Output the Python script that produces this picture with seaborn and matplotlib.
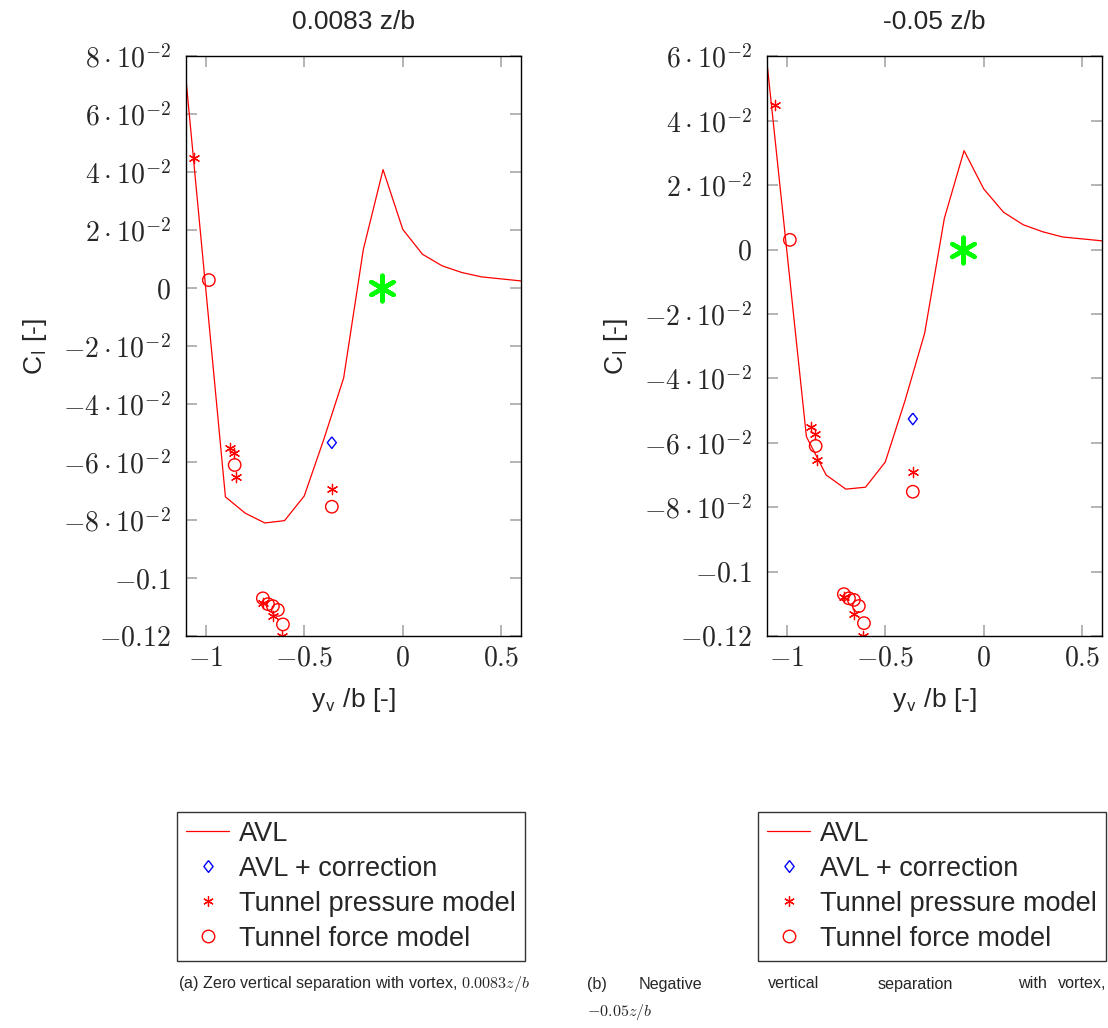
import numpy as np
import pandas as pd
import matplotlib
matplotlib.use("Agg")
import matplotlib.pyplot as plt
from matplotlib.lines import Line2D
import seaborn as sns

# ---- data -------------------------------------------------------------
avl_x = [-1.1, -0.9, -0.8, -0.7, -0.6, -0.5, -0.4, -0.3, -0.2, -0.1,
         0.0, 0.1, 0.2, 0.3, 0.4, 0.5, 0.6]
avl_cl_a = [0.072, -0.072, -0.0776, -0.081, -0.0802, -0.0717, -0.052, -0.031,
            0.0134, 0.0409, 0.0203, 0.0117, 0.0077, 0.0054, 0.0039, 0.0032, 0.0025]
avl_cl_b = [0.058, -0.0581, -0.070, -0.0744, -0.0738, -0.066, -0.047, -0.026,
            0.0097, 0.0307, 0.0188, 0.0116, 0.0077, 0.0055, 0.0039, 0.0033, 0.0027]

corr_x = [-0.36]
corr_cl_a = [-0.0533]
corr_cl_b = [-0.0526]

press_x = [-1.061, -0.876, -0.858, -0.845, -0.71, -0.66, -0.611, -0.36]
press_cl_a = [0.0448, -0.0551, -0.057, -0.0653, -0.1087, -0.113, -0.12, -0.0694]
press_cl_b = [0.0449, -0.0552, -0.0573, -0.0653, -0.108, -0.1133, -0.12, -0.0692]

force_x = [-0.984, -0.853, -0.71, -0.684, -0.659, -0.634, -0.608, -0.36]
force_cl_a = [0.0028, -0.061, -0.107, -0.109, -0.1097, -0.111, -0.116, -0.0754]
force_cl_b = [0.003, -0.061, -0.107, -0.1083, -0.1088, -0.1107, -0.116, -0.0752]

vortex_x = [-0.105]
vortex_cl = [0.0]

titles = ["0.0083 z/b", "-0.05 z/b"]
ylims = [(-0.12, 0.08), (-0.12, 0.06)]
xticks = [-1.0, -0.5, 0.0, 0.5]
xtick_labels = [r"$-1$", r"$-0.5$", r"$0$", r"$0.5$"]
legend_labels = ["AVL", "AVL + correction", "Tunnel pressure model", "Tunnel force model"]

# ---- style ------------------------------------------------------------
sns.set_style("white")
plt.rcParams["font.family"] = ["Liberation Sans", "DejaVu Sans"]
plt.rcParams["mathtext.fontset"] = "cm"

CAPTION_SIZE = 11.6

RED = "#ff0000"
BLUE = "#0000ff"
GREEN = "#00ff00"
ASTER = (6, 2, 0)
DIAMOND = [(0, 1), (0.78, 0), (0, -1), (-0.78, 0), (0, 1)]

W, H = 1108, 1028
fig = plt.figure(figsize=(W / 100, H / 100), dpi=100)


def ytick_label(v):
    if abs(v) < 1e-12:
        return r"$0$"
    if abs(v) >= 0.099:
        return r"$%g$" % v
    m = int(round(v * 100))
    return r"$%d\cdot10^{-2}$" % m


panels = [
    (186, avl_cl_a, corr_cl_a, press_cl_a, force_cl_a),
    (767, avl_cl_b, corr_cl_b, press_cl_b, force_cl_b),
]

for i, (left_px, avl, corr, press, force) in enumerate(panels):
    ax = fig.add_axes([left_px / W, (H - 636) / H, 335 / W, (636 - 56.3) / H])

    sns.lineplot(x=avl_x, y=avl, ax=ax, color=RED, lw=0.9, sort=False)
    sns.scatterplot(x=corr_x, y=corr, ax=ax, marker=DIAMOND, s=70,
                    color=BLUE, edgecolor=BLUE, linewidth=1.0)
    ax.collections[-1].set_facecolor("none")
    sns.scatterplot(x=press_x, y=press, ax=ax, marker=ASTER, s=55,
                    color=RED, edgecolor=RED, linewidth=0.9)
    sns.scatterplot(x=force_x, y=force, ax=ax, marker="o", s=80,
                    color=RED, edgecolor=RED, linewidth=1.0)
    ax.collections[-1].set_facecolor("none")
    sns.scatterplot(x=vortex_x, y=vortex_cl, ax=ax, marker=ASTER, s=340,
                    color=GREEN, edgecolor=GREEN, linewidth=3.2, zorder=5)

    ax.set_xlim(-1.1, 0.6)
    lo, hi = ylims[i]
    ax.set_ylim(lo, hi)
    yt = np.round(np.arange(lo, hi + 1e-9, 0.02), 2)
    ax.set_yticks(yt)
    ax.set_yticklabels([ytick_label(v) for v in yt])
    ax.set_xticks(xticks)
    ax.set_xticklabels(xtick_labels)

    ax.tick_params(axis="both", which="major", direction="in", length=8,
                   width=1.1, color="#a0a0a0", labelsize=20,
                   top=True, right=True, left=True, bottom=True)
    ax.tick_params(axis="y", pad=11)
    ax.tick_params(axis="x", pad=7)
    for sp in ax.spines.values():
        sp.set_color("black")
        sp.set_linewidth(1.0)

    cx = (left_px + 335 / 2) / W
    fig.text(cx, 1 - 22 / H, titles[i], ha="center", va="center", fontsize=19)
    fig.text(cx, 1 - 700 / H, r"y$_\mathsf{v}$ /b [-]", ha="center", va="center",
             fontsize=19)
    fig.text((left_px - 151) / W, 1 - 346 / H, r"C$_\mathsf{l}$ [-]", ha="center",
             va="center", rotation=90, fontsize=19)

    handles = [
        Line2D([], [], color=RED, lw=0.9),
        Line2D([], [], ls="none", marker=DIAMOND, ms=8.5, mfc="none", mec=BLUE, mew=1.0),
        Line2D([], [], ls="none", marker=ASTER, ms=7.5, mec=RED, mew=0.9),
        Line2D([], [], ls="none", marker="o", ms=9, mfc="none", mec=RED, mew=1.0),
    ]
    leg = fig.legend(handles, legend_labels, loc="upper left",
                     bbox_to_anchor=((left_px - 9) / W, 1 - 812 / H),
                     bbox_transform=fig.transFigure, fontsize=19.5,
                     frameon=True, fancybox=False, edgecolor="black",
                     borderpad=0.33, labelspacing=0.33, handlelength=1.6,
                     handletextpad=0.35, borderaxespad=0)
    leg.get_frame().set_linewidth(1.0)

# captions
fig.text(178 / W, 1 - 984 / H, r"(a) Zero vertical separation with vortex, $0.0083z/b$",
         ha="left", va="center", fontsize=CAPTION_SIZE)
words = [("(b)", 587, "left"), ("Negative", 639, "left"), ("vertical", 768, "left"),
         ("separation", 878, "left"), ("with", 1018, "left"), ("vortex,", 1106, "right")]
for w, xp, al in words:
    fig.text(xp / W, 1 - 984 / H, w, ha=al, va="center", fontsize=CAPTION_SIZE)
fig.text(587 / W, 1 - 1012 / H, r"$-0.05z/b$", ha="left", va="center",
         fontsize=CAPTION_SIZE)

fig.savefig("out.png", dpi=100)
